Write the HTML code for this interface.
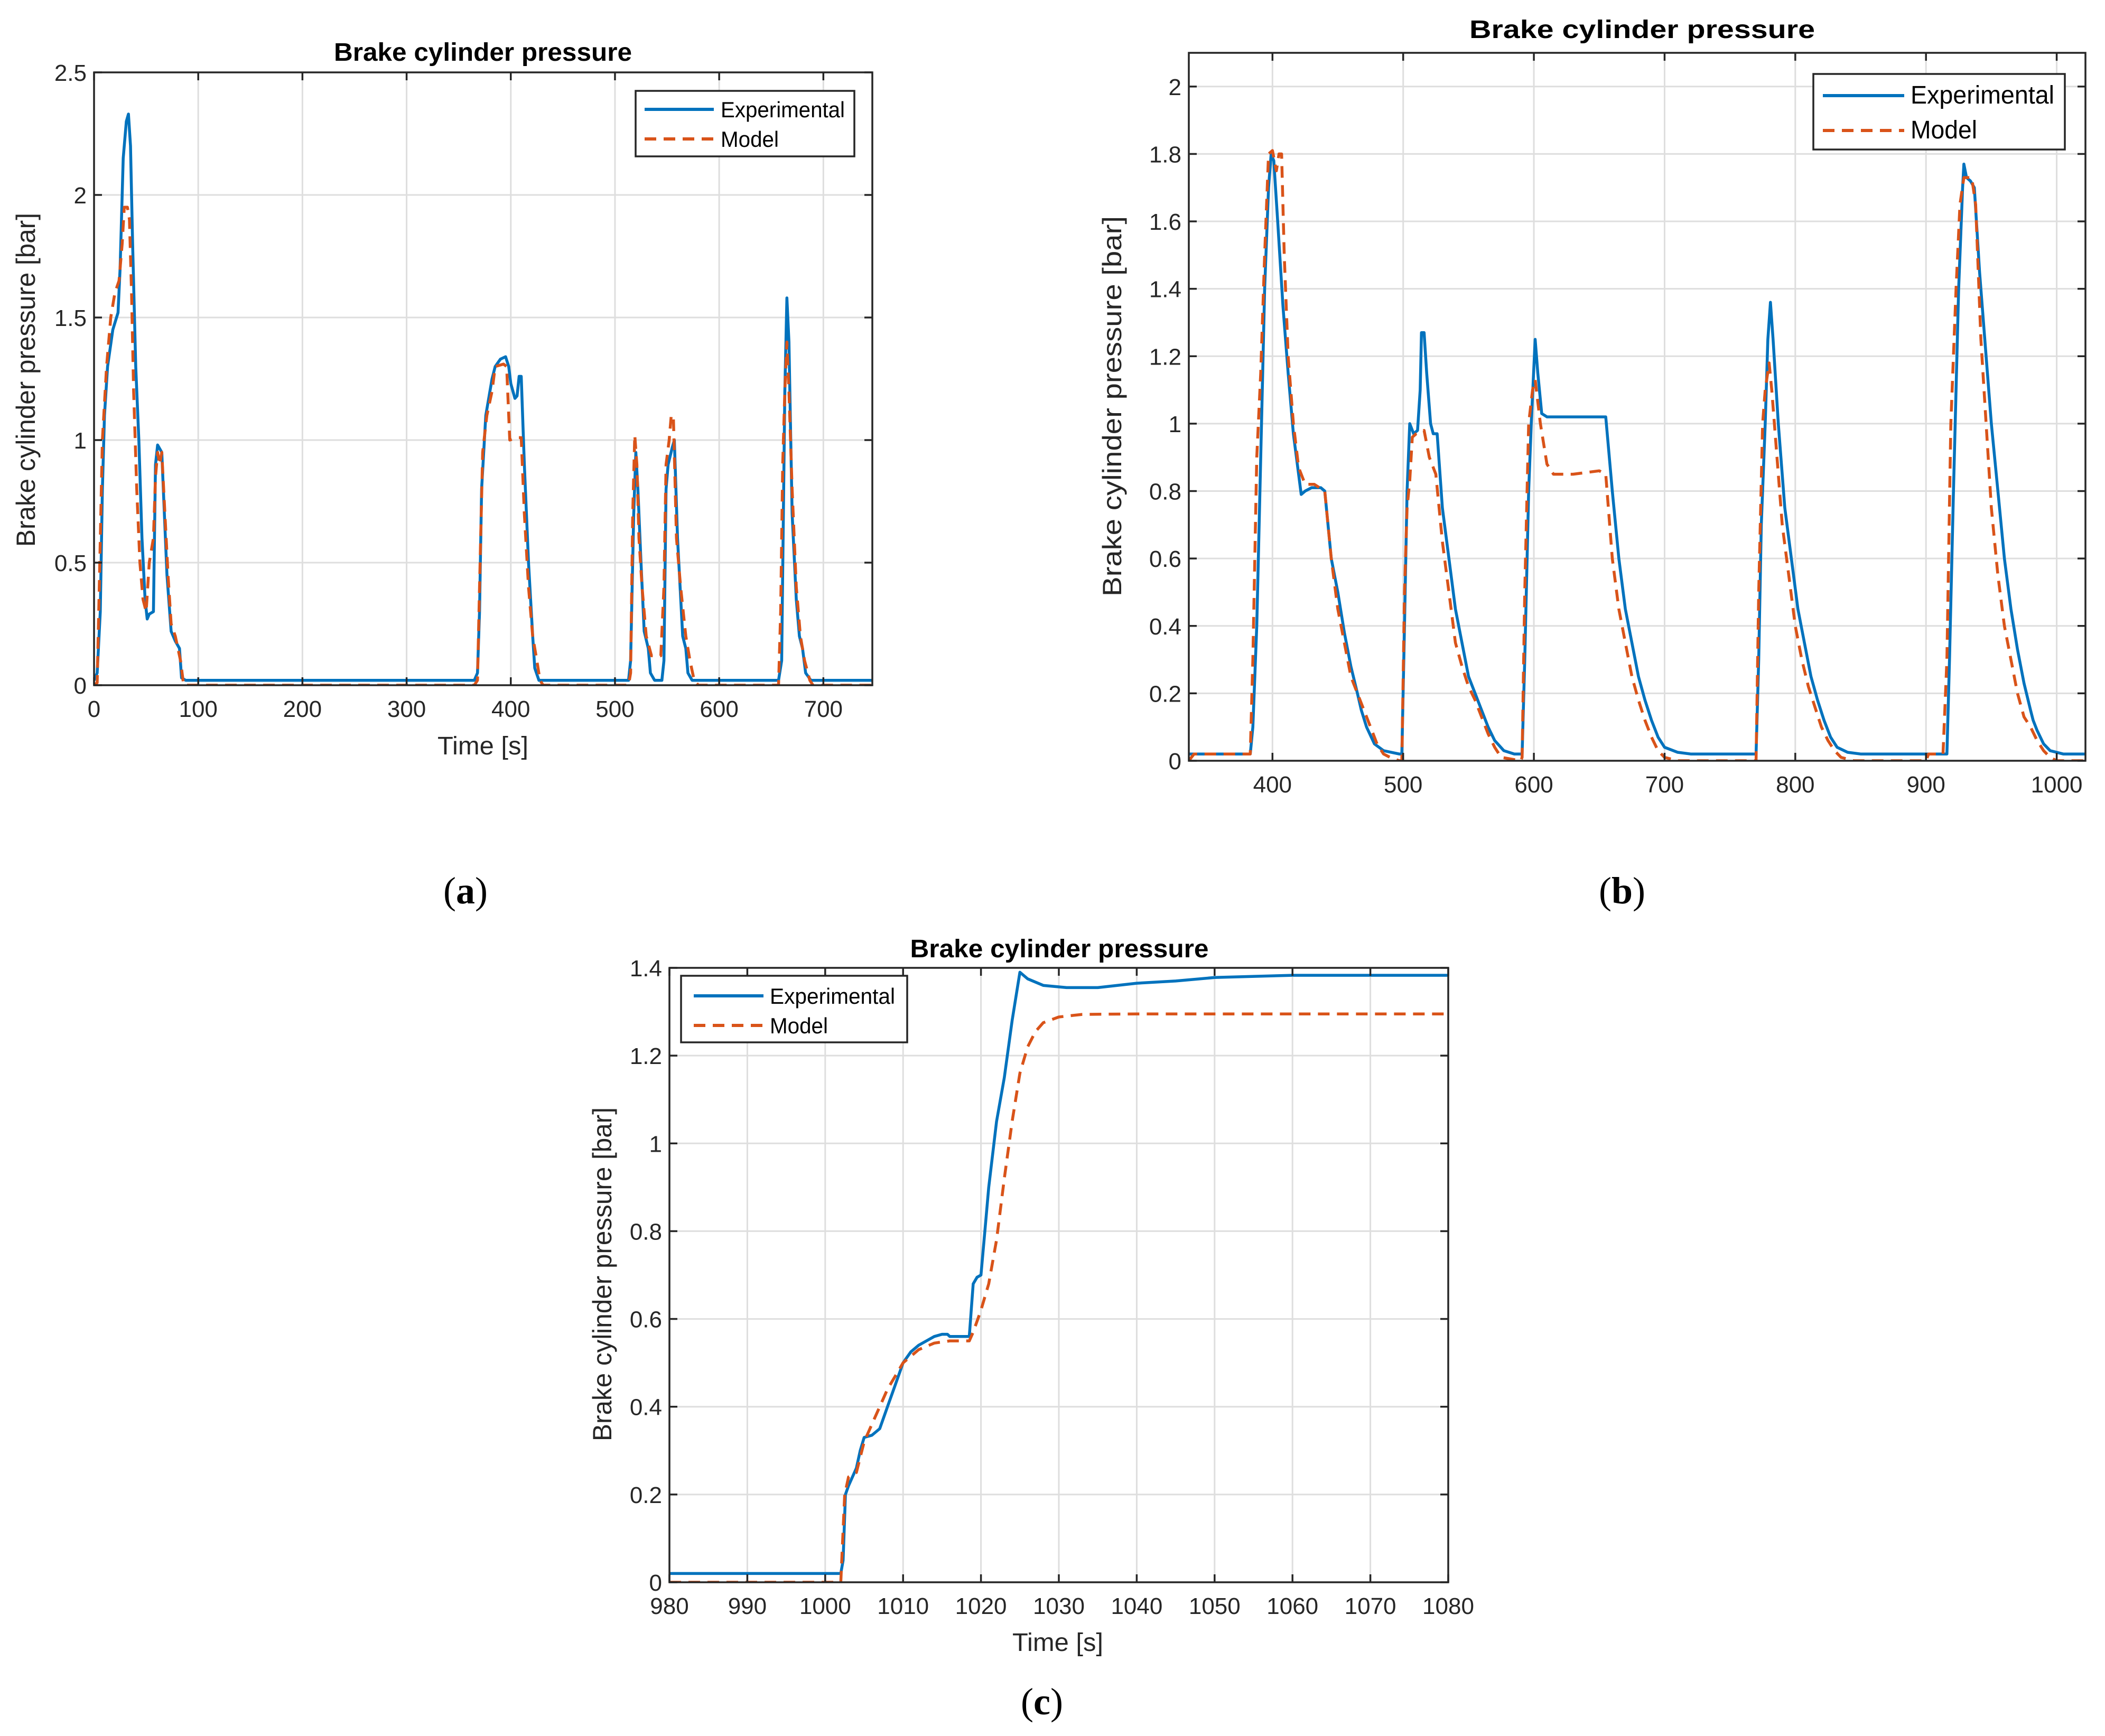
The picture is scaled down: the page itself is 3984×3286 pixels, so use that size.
<!DOCTYPE html>
<html><head><meta charset="utf-8"><style>
html,body{margin:0;padding:0;background:#fff}
svg{display:block}
text{font-family:"Liberation Sans",Arial,sans-serif;fill:#262626}
</style></head><body>
<svg id="fig" width="3984" height="3286" viewBox="0 0 3984 3286" xmlns="http://www.w3.org/2000/svg">
<rect width="3984" height="3286" fill="#fff"/>
<text x="881" y="1710" font-family="Liberation Serif,serif" font-size="72" text-anchor="middle" style="font-family:'Liberation Serif',serif;fill:#000">(<tspan font-weight="bold">a</tspan>)</text>
<text x="3070" y="1710" font-size="72" text-anchor="middle" style="font-family:'Liberation Serif',serif;fill:#000">(<tspan font-weight="bold">b</tspan>)</text>
<text x="1972" y="3245" font-size="72" text-anchor="middle" style="font-family:'Liberation Serif',serif;fill:#000">(<tspan font-weight="bold">c</tspan>)</text>
</svg>
<script>
// Panel (a) data
const expA_t=[0,3,6,8,10,13,18,23,25,28,31,33,35,37,40,43,46,49,51,53,57,59,61,65,67,70,74,78,82,84,88,365,368,370,372,376,382,385,390,395,398,400,404,406,408,410,413,417,421,423,427,513,515,518,520,522,525,528,532,534,538,545,547,549,551,555,557,560,565,568,570,574,657,660,663,665,667,670,674,677,680,683,688,747];
const expA_v=[0.02,0.05,0.3,0.8,1.1,1.3,1.45,1.52,1.7,2.15,2.3,2.33,2.2,1.8,1.3,1.0,0.6,0.35,0.27,0.29,0.3,0.9,0.98,0.95,0.75,0.45,0.22,0.18,0.15,0.03,0.02,0.02,0.05,0.3,0.8,1.1,1.25,1.3,1.33,1.34,1.3,1.23,1.17,1.18,1.26,1.26,0.9,0.5,0.2,0.07,0.02,0.02,0.1,0.7,0.95,0.8,0.5,0.22,0.15,0.05,0.02,0.02,0.1,0.8,0.9,0.97,1.0,0.6,0.2,0.15,0.05,0.02,0.02,0.1,1.2,1.58,1.4,0.7,0.35,0.2,0.15,0.05,0.02,0.02];
const modA_t=[0,3,5,8,12,16,20,24,27,29,32,34,36,38,41,44,47,50,53,57,59,61,63,65,68,71,74,78,83,86,365,368,370,373,377,382,385,393,396,399,405,410,413,417,421,425,428,431,513,515,517,519,521,523,526,530,535,544,547,549,552,554,556,559,563,568,572,576,580,657,659,661,663,665,667,670,674,678,682,687,690,747];
const modA_v=[0,0.01,0.4,1.0,1.3,1.5,1.6,1.65,1.8,1.95,1.95,1.9,1.6,1.2,0.8,0.5,0.35,0.3,0.5,0.6,0.85,0.95,0.9,0.95,0.7,0.45,0.25,0.2,0.1,0,0,0.02,0.4,0.95,1.1,1.2,1.3,1.31,1.3,1.0,1.01,1.01,0.7,0.4,0.2,0.1,0.02,0,0,0.05,0.7,1.02,0.9,0.6,0.4,0.2,0.12,0.12,0.4,0.9,1.0,1.1,1.1,0.6,0.4,0.2,0.1,0.02,0,0,0.3,0.9,1.2,1.4,1.2,0.8,0.4,0.2,0.1,0.02,0,0];
const ticksAx=[0,100,200,300,400,500,600,700];
const ticksAy=[0,0.5,1,1.5,2,2.5];
// Panel (b) data
const expB_t=[336,383,385,388,391,394,397,399,401,404,408,412,416,420,422,425,430,437,440,445,450,455,460,465,468,472,478,485,497,499,501,503,505,508,511,513,514,516,518,521,523,526,530,535,540,545,550,555,560,565,570,577,585,591,593,596,598,601,603,606,610,630,655,660,665,670,675,680,685,690,695,700,710,720,770,772,774,777,779,781,783,787,792,797,802,807,812,817,822,827,832,840,850,900,916,918,921,925,928,929,931,934,937,941,945,950,955,960,965,970,975,980,982,985,990,995,1005,1022];
const expB_v=[0.02,0.02,0.1,0.4,0.9,1.4,1.7,1.8,1.78,1.6,1.35,1.15,0.97,0.85,0.79,0.8,0.81,0.81,0.8,0.6,0.5,0.38,0.28,0.2,0.15,0.1,0.05,0.03,0.02,0.02,0.4,0.8,1.0,0.97,0.98,1.1,1.27,1.27,1.15,1.0,0.97,0.97,0.75,0.6,0.45,0.35,0.25,0.2,0.15,0.1,0.06,0.03,0.02,0.02,0.3,0.8,1.0,1.25,1.15,1.03,1.02,1.02,1.02,0.8,0.6,0.45,0.35,0.25,0.18,0.12,0.07,0.04,0.025,0.02,0.02,0.3,0.7,1.0,1.25,1.36,1.25,1.0,0.75,0.6,0.45,0.35,0.25,0.18,0.12,0.07,0.04,0.025,0.02,0.02,0.02,0.3,0.8,1.4,1.7,1.77,1.73,1.72,1.7,1.45,1.25,1.0,0.8,0.6,0.45,0.33,0.23,0.15,0.12,0.09,0.05,0.03,0.02,0.02];
const modB_t=[336,340,383,385,388,391,394,397,400,403,405,407,409,412,416,420,425,432,440,445,450,455,460,465,470,475,480,485,490,497,499,501,503,505,507,510,516,520,525,530,535,540,545,550,555,560,565,570,575,590,591,593,596,599,601,605,610,615,630,650,655,660,665,670,675,680,685,690,695,700,710,770,772,775,777,780,782,786,790,795,800,805,810,815,820,825,830,835,845,900,902,913,916,919,923,926,929,935,938,942,946,950,955,960,965,970,975,980,985,990,995,1000,1022];
const modB_v=[0,0.02,0.02,0.3,0.9,1.15,1.5,1.8,1.81,1.75,1.8,1.8,1.5,1.2,1.0,0.87,0.82,0.82,0.8,0.6,0.45,0.35,0.25,0.2,0.15,0.1,0.05,0.02,0.01,0,0,0.5,0.75,0.83,0.96,0.97,0.98,0.9,0.85,0.65,0.5,0.35,0.28,0.22,0.18,0.13,0.08,0.04,0.01,0,0.01,0.5,1.0,1.1,1.13,1.0,0.88,0.85,0.85,0.86,0.85,0.6,0.45,0.35,0.25,0.18,0.12,0.07,0.03,0.01,0,0,0.5,1.0,1.1,1.18,1.1,0.9,0.7,0.55,0.4,0.3,0.22,0.16,0.1,0.06,0.03,0.01,0,0,0.02,0.02,0.3,1.0,1.4,1.65,1.73,1.73,1.65,1.25,1.0,0.75,0.55,0.4,0.3,0.2,0.13,0.1,0.06,0.03,0.01,0,0];
const ticksBx=[400,500,600,700,800,900,1000];
const ticksBy=[0,0.2,0.4,0.6,0.8,1,1.2,1.4,1.6,1.8,2];
// Panel (c) data
const expC_t=[980,1002,1002.3,1002.6,1003,1004,1004.5,1005,1006,1007,1008,1009,1010,1011,1012,1013,1014,1015,1015.7,1016,1018.5,1019,1019.5,1020,1020.5,1021,1022,1023,1024,1025,1026,1028,1031,1035,1040,1045,1050,1060,1080];
const expC_v=[0.02,0.02,0.05,0.2,0.22,0.26,0.3,0.33,0.335,0.35,0.4,0.45,0.5,0.525,0.54,0.55,0.56,0.565,0.565,0.56,0.56,0.68,0.695,0.7,0.8,0.9,1.05,1.15,1.28,1.39,1.375,1.36,1.355,1.355,1.365,1.37,1.378,1.383,1.383];
const modC_t=[980,1002,1002.5,1003,1004,1005,1006,1007,1008,1009,1010,1011,1012,1014,1016,1018.5,1019,1020,1021,1022,1023,1024,1025,1026,1027,1028,1030,1033,1040,1080];
const modC_v=[0,0,0.2,0.24,0.25,0.32,0.36,0.4,0.44,0.47,0.5,0.515,0.53,0.545,0.55,0.55,0.57,0.62,0.68,0.78,0.92,1.05,1.16,1.22,1.255,1.275,1.288,1.294,1.295,1.295];
const ticksCx=[980,990,1000,1010,1020,1030,1040,1050,1060,1070,1080];
const ticksCy=[0,0.2,0.4,0.6,0.8,1,1.2,1.4];

const NS='http://www.w3.org/2000/svg';
const svg=document.getElementById('fig');
function mk(tag,attrs,parent){const e=document.createElementNS(NS,tag);for(const k in attrs)e.setAttribute(k,attrs[k]);(parent||svg).appendChild(e);return e;}
function fmt(v){return String(Math.round(v*10)/10);}

function panel(id,box,xd,yd,xt,yt,series,leg,title,ylab,xlab){
  const g=mk('g',{});
  
  
  const sx=v=>box.l+(v-xd[0])/(xd[1]-xd[0])*(box.r-box.l);
  const sy=v=>box.b-(v-yd[0])/(yd[1]-yd[0])*(box.b-box.t);
  mk('rect',{x:box.l,y:box.t,width:box.r-box.l,height:box.b-box.t,fill:'#fff'},g);
  const grid=mk('g',{stroke:'#dedede','stroke-width':3},g);
  
  
  xt.forEach(v=>{const x=sx(v);mk('line',{x1:x,x2:x,y1:box.t,y2:box.b},grid);});
  yt.forEach(v=>{const y=sy(v);mk('line',{x1:box.l,x2:box.r,y1:y,y2:y},grid);});
  // series
  const clip='clip-'+id;
  const cp=mk('clipPath',{id:clip},g);mk('rect',{x:box.l,y:box.t,width:box.r-box.l,height:box.b-box.t},cp);
  series.forEach(s=>{
    const d=s.t.map((t,i)=>(i?'L':'M')+sx(t).toFixed(1)+' '+sy(s.v[i]).toFixed(1)).join(' ');
    const p=mk('path',{d:d,fill:'none',stroke:s.c,'stroke-width':5.5,'stroke-linejoin':'round','clip-path':'url(#'+clip+')'},g);
    if(s.dash)p.setAttribute('stroke-dasharray','22 14');
    
    
  });
  // axes box and ticks
  const ax=mk('g',{stroke:'#262626','stroke-width':3.5,fill:'none'},g);
  
  
  mk('rect',{x:box.l,y:box.t,width:box.r-box.l,height:box.b-box.t},ax);
  const xl=mk('g',{'font-size':44,'text-anchor':'middle'},g);
  
  
  xt.forEach(v=>{const x=sx(v);mk('line',{x1:x,x2:x,y1:box.b,y2:box.b-15},ax);mk('line',{x1:x,x2:x,y1:box.t,y2:box.t+15},ax);
    const t=mk('text',{x:x,y:box.b+60},xl);t.textContent=fmt(v);});
  const yl=mk('g',{'font-size':44,'text-anchor':'end'},g);
  
  
  yt.forEach(v=>{const y=sy(v);mk('line',{x1:box.l,x2:box.l+15,y1:y,y2:y},ax);mk('line',{x1:box.r,x2:box.r-15,y1:y,y2:y},ax);
    const t=mk('text',{x:box.l-14,y:y+16},yl);t.textContent=fmt(v);});
  // title
  const tt=mk('text',{x:title.x,y:title.y,'font-size':48,'font-weight':'bold','text-anchor':'middle',textLength:title.w,lengthAdjust:'spacingAndGlyphs',style:'fill:#000'},g);
  tt.textContent='Brake cylinder pressure';
  
  
  const yt2=mk('text',{x:0,y:0,'font-size':50,'text-anchor':'middle',textLength:ylab.w,lengthAdjust:'spacingAndGlyphs',transform:'translate('+ylab.x+','+ylab.y+') rotate(-90)'},g);
  yt2.textContent='Brake cylinder pressure [bar]';
  
  
  if(xlab){const xx=mk('text',{x:xlab.x,y:xlab.y,'font-size':48,'text-anchor':'middle',textLength:xlab.w,lengthAdjust:'spacingAndGlyphs'},g);
    xx.textContent='Time [s]';
    
    }
  // legend
  const lg=mk('g',{},g);
  
  
  mk('rect',{x:leg.x,y:leg.y,width:leg.w,height:leg.h,fill:'#fff',stroke:'#262626','stroke-width':3.5},lg);
  series.forEach((s,i)=>{
    const ry=leg.rows[i];
    const ln=mk('line',{x1:leg.s1,x2:leg.s2,y1:ry,y2:ry,stroke:s.c,'stroke-width':6},lg);
    if(s.dash)ln.setAttribute('stroke-dasharray','22 14');
    
    
    const t=mk('text',{x:leg.tx,y:ry+15,'font-size':leg.fs,textLength:(s.label==='Model'?leg.mw:leg.ew),lengthAdjust:'spacingAndGlyphs',style:'fill:#000'},lg);
    t.textContent=s.label;
    
    
  });
}
const BLUE='#0072BD',ORG='#D95319';
panel('a',{l:178,r:1651,t:137,b:1297},[0,747],[0,2.5],ticksAx,ticksAy,
 [{t:expA_t,v:expA_v,c:BLUE,label:'Experimental',name:'series-experimental'},{t:modA_t,v:modA_v,c:ORG,dash:true,label:'Model',name:'series-model'}],
 {x:1203,y:172,w:414,h:124,s1:1220,s2:1351,tx:1364,rows:[207,263],fs:42,ew:235,mw:110},
 {x:914,y:115,w:564},{x:66,y:719,w:632},{x:914,y:1428,w:172});
panel('b',{l:2250,r:3947,t:100,b:1440},[336,1022],[0,2.1],ticksBx,ticksBy,
 [{t:expB_t,v:expB_v,c:BLUE,label:'Experimental',name:'series-experimental'},{t:modB_t,v:modB_v,c:ORG,dash:true,label:'Model',name:'series-model'}],
 {x:3432,y:140,w:476,h:143,s1:3450,s2:3604,tx:3616,rows:[181,247],fs:48,ew:272,mw:126},
 {x:3108,y:72,w:654},{x:2122,y:769,w:720},null);
panel('c',{l:1267,r:2741,t:1832,b:2995},[980,1080],[0,1.4],ticksCx,ticksCy,
 [{t:expC_t,v:expC_v,c:BLUE,label:'Experimental',name:'series-experimental'},{t:modC_t,v:modC_v,c:ORG,dash:true,label:'Model',name:'series-model'}],
 {x:1289,y:1847,w:428,h:126,s1:1313,s2:1445,tx:1457,rows:[1885,1941],fs:42,ew:237,mw:110},
 {x:2005,y:1812,w:565},{x:1157,y:2412,w:632},{x:2002,y:3125,w:172});
</script>
</body></html>
